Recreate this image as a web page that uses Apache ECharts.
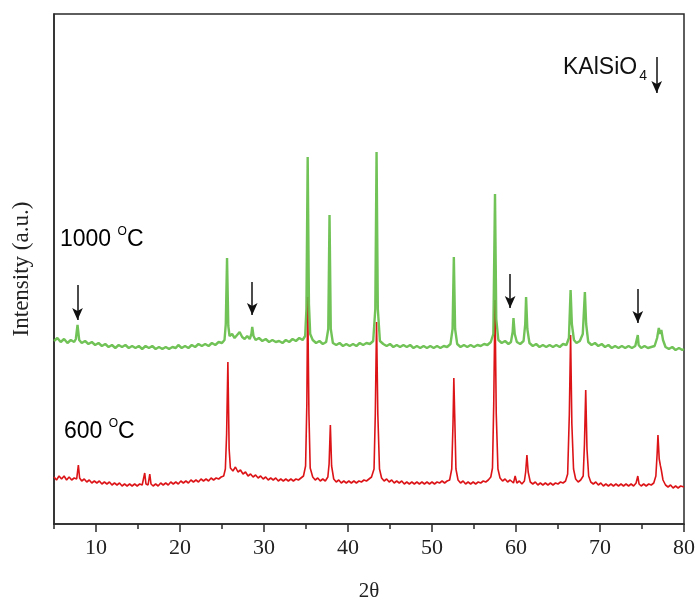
<!DOCTYPE html>
<html>
<head>
<meta charset="utf-8">
<script src="https://cdn.jsdelivr.net/npm/echarts@6/dist/echarts.min.js"></script>
<style>html,body{margin:0;padding:0;background:#fff;}#c{width:696px;height:603px;}</style>
</head>
<body>
<div id="c"></div>
<script>
// 600 °C pattern: [2theta, intensity (a.u.)]
const red600 = [[5.0,47],[5.3,44],[5.6,48],[5.9,45],[6.2,48],[6.5,44],[6.8,47],[7.1,44],[7.4,46],[7.7,45],[7.9,59],[8.05,46],[8.3,43],[8.6,45],[8.9,42],[9.2,44],[9.5,41],[9.8,43],[10.1,41],[10.4,43],[10.7,40],[11.0,42],[11.3,40],[11.6,42],[11.9,39],[12.2,41],[12.5,39],[12.8,41],[13.1,38],[13.4,40],[13.7,38],[14.0,40],[14.3,38],[14.6,40],[14.9,38],[15.2,40],[15.5,39],[15.8,51],[15.95,40],[16.2,39],[16.4,50],[16.55,40],[16.8,38],[17.1,40],[17.4,38],[17.7,41],[18.0,39],[18.3,41],[18.6,39],[18.9,42],[19.2,40],[19.5,42],[19.8,40],[20.1,43],[20.4,41],[20.7,43],[21.0,41],[21.3,44],[21.6,42],[21.9,44],[22.2,42],[22.5,45],[22.8,43],[23.1,45],[23.4,43],[23.7,46],[24.0,44],[24.3,46],[24.6,45],[24.9,47],[25.2,48],[25.4,55],[25.55,90],[25.7,162],[25.85,75],[26.0,56],[26.3,53],[26.6,57],[26.9,52],[27.2,54],[27.5,50],[27.8,52],[28.1,48],[28.4,50],[28.7,47],[29.0,49],[29.3,46],[29.6,48],[29.9,45],[30.2,47],[30.5,44],[30.8,46],[31.1,44],[31.4,46],[31.7,43],[32.0,45],[32.3,43],[32.6,45],[32.9,43],[33.2,45],[33.5,43],[33.8,45],[34.1,44],[34.4,46],[34.7,48],[34.95,58],[35.1,120],[35.2,227],[35.35,110],[35.5,56],[35.8,47],[36.1,44],[36.4,46],[36.7,43],[37.0,45],[37.3,43],[37.6,47],[37.75,60],[37.9,99],[38.05,58],[38.3,45],[38.6,42],[38.9,44],[39.2,41],[39.5,43],[39.8,41],[40.1,43],[40.4,41],[40.7,43],[41.0,41],[41.3,43],[41.6,42],[41.9,44],[42.2,43],[42.5,45],[42.8,47],[43.1,55],[43.25,110],[43.4,202],[43.55,110],[43.75,55],[44.0,46],[44.3,43],[44.6,45],[44.9,42],[45.2,44],[45.5,41],[45.8,43],[46.1,41],[46.4,43],[46.7,40],[47.0,42],[47.3,40],[47.6,42],[47.9,40],[48.2,42],[48.5,40],[48.8,42],[49.1,40],[49.4,42],[49.7,40],[50.0,42],[50.3,40],[50.6,42],[50.9,41],[51.2,43],[51.5,41],[51.8,43],[52.1,44],[52.35,55],[52.5,100],[52.6,146],[52.7,110],[52.85,55],[53.1,44],[53.4,41],[53.7,43],[54.0,40],[54.3,42],[54.6,40],[54.9,42],[55.2,40],[55.5,42],[55.8,41],[56.1,43],[56.4,42],[56.7,44],[57.0,47],[57.2,56],[57.35,120],[57.5,224],[57.65,110],[57.85,55],[58.1,46],[58.4,43],[58.7,45],[59.0,42],[59.3,44],[59.7,41],[59.9,48],[60.1,41],[60.4,43],[60.7,40],[61.0,43],[61.15,52],[61.3,69],[61.45,52],[61.7,42],[62.0,40],[62.3,42],[62.6,39],[62.9,41],[63.2,39],[63.5,41],[63.8,39],[64.1,41],[64.4,39],[64.7,41],[65.0,40],[65.3,42],[65.6,41],[65.9,43],[66.15,50],[66.35,110],[66.5,189],[66.65,100],[66.85,55],[67.1,45],[67.4,42],[67.7,44],[68.0,48],[68.15,80],[68.3,134],[68.45,75],[68.65,48],[68.9,42],[69.2,40],[69.5,42],[69.8,39],[70.1,41],[70.4,38],[70.7,40],[71.0,38],[71.3,40],[71.6,38],[71.9,40],[72.2,38],[72.5,40],[72.8,38],[73.1,40],[73.4,38],[73.7,40],[74.0,38],[74.3,41],[74.5,48],[74.65,40],[74.9,38],[75.2,40],[75.5,38],[75.8,40],[76.1,39],[76.4,41],[76.65,48],[76.8,70],[76.9,89],[77.05,65],[77.2,58],[77.3,54],[77.5,44],[77.8,39],[78.1,37],[78.4,39],[78.7,36],[79.0,38],[79.3,36],[79.6,38],[80.0,37]];

// 1000 °C pattern: [2theta, intensity (a.u.)]
const green1000 = [[5.0,183],[5.4,186],[5.8,182],[6.2,185],[6.6,181],[7.0,184],[7.4,182],[7.6,185],[7.8,199],[8.0,184],[8.3,181],[8.7,183],[9.1,180],[9.5,182],[9.9,179],[10.3,181],[10.7,178],[11.1,180],[11.5,177],[11.9,179],[12.3,176],[12.7,179],[13.1,177],[13.5,179],[13.9,176],[14.3,178],[14.7,176],[15.1,178],[15.5,175],[15.9,178],[16.3,176],[16.7,178],[17.1,175],[17.5,177],[17.9,175],[18.3,177],[18.7,175],[19.1,177],[19.5,176],[19.8,179],[20.2,176],[20.6,178],[21.0,176],[21.4,179],[21.8,177],[22.2,180],[22.6,178],[23.0,180],[23.4,178],[23.8,181],[24.2,179],[24.6,182],[25.0,181],[25.3,184],[25.45,200],[25.6,266],[25.75,198],[25.9,188],[26.2,190],[26.5,186],[26.8,189],[27.1,192],[27.4,187],[27.7,185],[28.0,188],[28.3,185],[28.5,190],[28.6,197],[28.75,188],[29.0,184],[29.4,186],[29.8,183],[30.2,185],[30.6,182],[31.0,184],[31.4,182],[31.8,183],[32.2,181],[32.6,184],[33.0,182],[33.4,185],[33.8,183],[34.2,186],[34.6,184],[34.9,188],[35.05,215],[35.2,367],[35.35,220],[35.5,190],[35.8,184],[36.2,181],[36.6,183],[37.0,180],[37.4,182],[37.65,195],[37.8,309],[37.95,195],[38.2,181],[38.6,179],[39.0,181],[39.4,178],[39.8,180],[40.2,178],[40.6,180],[41.0,178],[41.4,181],[41.8,179],[42.2,181],[42.6,180],[43.0,183],[43.25,215],[43.4,372],[43.55,215],[43.8,183],[44.2,180],[44.6,178],[45.0,180],[45.4,177],[45.8,179],[46.2,177],[46.6,179],[47.0,177],[47.4,179],[47.8,176],[48.2,178],[48.6,176],[49.0,178],[49.4,176],[49.8,178],[50.2,176],[50.6,178],[51.0,176],[51.4,178],[51.8,177],[52.2,180],[52.45,195],[52.6,267],[52.75,195],[53.0,180],[53.4,177],[53.8,179],[54.2,177],[54.6,179],[55.0,177],[55.4,179],[55.8,178],[56.2,180],[56.6,179],[57.0,182],[57.3,190],[57.5,330],[57.65,205],[57.9,184],[58.3,181],[58.7,183],[59.1,180],[59.4,182],[59.6,192],[59.7,206],[59.85,190],[60.1,182],[60.5,180],[60.9,183],[61.1,200],[61.2,227],[61.35,195],[61.6,181],[62.0,178],[62.4,180],[62.8,177],[63.2,179],[63.6,177],[64.0,179],[64.4,177],[64.8,179],[65.2,177],[65.6,180],[66.0,179],[66.3,186],[66.5,234],[66.65,200],[66.9,184],[67.2,181],[67.6,183],[67.95,190],[68.2,232],[68.35,200],[68.6,182],[69.0,179],[69.4,181],[69.8,178],[70.2,180],[70.6,177],[71.0,179],[71.4,176],[71.8,178],[72.2,176],[72.6,178],[73.0,176],[73.4,178],[73.8,176],[74.2,178],[74.4,180],[74.5,189],[74.6,179],[74.9,176],[75.3,178],[75.7,176],[76.1,177],[76.5,178],[76.8,186],[77.0,196],[77.15,190],[77.3,194],[77.5,184],[77.8,177],[78.2,175],[78.6,177],[79.0,174],[79.4,176],[79.8,174],[80.0,175]];

// KAlSiO4 marker arrows (2theta, arrow start, arrow tip), last one is the key arrow
const arrowX    = [7.8, 28.6, 59.3, 74.5, 76.75];
const arrowFrom = [239, 242, 250, 235, 467];
const arrowTo   = [204, 209, 216, 201, 431];

const xMajorTicks = [10, 20, 30, 40, 50, 60, 70, 80];
const xMinorTicks = [5, 15, 25, 35, 45, 55, 65, 75];

const labels = {
  key: 'KAlSiO',
  keySub: '4',
  hot: '1000 ',
  cold: '600 ',
  deg: 'O',
  unit: 'C'
};

const chart = echarts.init(document.getElementById('c'), null, {renderer: 'canvas'});
const serif = '"Liberation Serif", "Times New Roman", serif';
const sans = '"Liberation Sans", Arial, sans-serif';

const arrowLines = arrowX.map((x, i) => [
  {coord: [x, arrowFrom[i]]},
  {coord: [x, arrowTo[i]]}
]);

const tempRich = {
  n: {fontFamily: sans, fontSize: 23, color: '#111', lineHeight: 28},
  s: {fontFamily: sans, fontSize: 12, color: '#111', verticalAlign: 'top', lineHeight: 28, padding: [0, 0, 0, 0]}
};

chart.setOption({
  animation: false,
  backgroundColor: '#fff',
  grid: {left: 54, right: 12, top: 14, bottom: 79, show: true, borderColor: '#2a2a2a', borderWidth: 1.5,
         outerBoundsMode: 'none', containLabel: false},
  xAxis: [{
    type: 'value', min: 5, max: 80,
    axisLine: {show: true, lineStyle: {color: '#2a2a2a', width: 1.5}},
    axisTick: {show: true, customValues: xMajorTicks, length: 8, lineStyle: {color: '#2a2a2a', width: 1.5}},
    axisLabel: {show: true, customValues: xMajorTicks, margin: 13, fontFamily: serif, fontSize: 22, color: '#222'},
    splitLine: {show: false},
    name: '2θ', nameLocation: 'middle', nameGap: 57,
    nameTextStyle: {fontFamily: serif, fontSize: 21, color: '#222'}
  }, {
    type: 'value', min: 5, max: 80, position: 'bottom', gridIndex: 0,
    axisLine: {show: false},
    axisTick: {show: true, customValues: xMinorTicks, length: 5, lineStyle: {color: '#2a2a2a', width: 1.5}},
    axisLabel: {show: false},
    splitLine: {show: false}
  }],
  yAxis: {
    type: 'value', min: 0, max: 510,
    axisLine: {show: true, lineStyle: {color: '#2a2a2a', width: 1.5}},
    axisTick: {show: false}, axisLabel: {show: false}, splitLine: {show: false},
    name: 'Intensity (a.u.)', nameLocation: 'middle', nameGap: 21,
    nameTextStyle: {fontFamily: serif, fontSize: 23, color: '#222'}
  },
  title: {
    text: '{a|' + labels.key + '}{b|' + labels.keySub + '}',
    left: 558, top: 49,
    textStyle: {fontWeight: 'normal', rich: {
      a: {fontFamily: sans, fontSize: 23, fontWeight: 'normal', color: '#111', lineHeight: 28},
      b: {fontFamily: sans, fontSize: 14, fontWeight: 'normal', color: '#111', verticalAlign: 'bottom', lineHeight: 28, padding: [0, 0, -1, 2]}
    }}
  },
  graphic: [
    {type: 'text', left: 60, top: 226, silent: true,
     style: {text: '{n|' + labels.hot + '}{s|' + labels.deg + '}{n|' + labels.unit + '}', rich: tempRich}},
    {type: 'text', left: 64, top: 418, silent: true,
     style: {text: '{n|' + labels.cold + '}{s|' + labels.deg + '}{n|' + labels.unit + '}', rich: tempRich}}
  ],
  series: [{
    name: '600 °C', type: 'line', data: red600, showSymbol: false, symbol: 'none',
    lineStyle: {color: '#dc1418', width: 1.6}, z: 2
  }, {
    name: '1000 °C', type: 'line', data: green1000, showSymbol: false, symbol: 'none',
    lineStyle: {color: '#62bb45', width: 2.4, opacity: 0.9}, z: 3,
    markLine: {
      silent: true, animation: false,
      symbol: ['none', 'arrow'], symbolSize: [8, 12],
      label: {show: false},
      lineStyle: {color: '#111', width: 1.5, type: 'solid'},
      data: arrowLines
    }
  }]
});
</script>
</body>
</html>
